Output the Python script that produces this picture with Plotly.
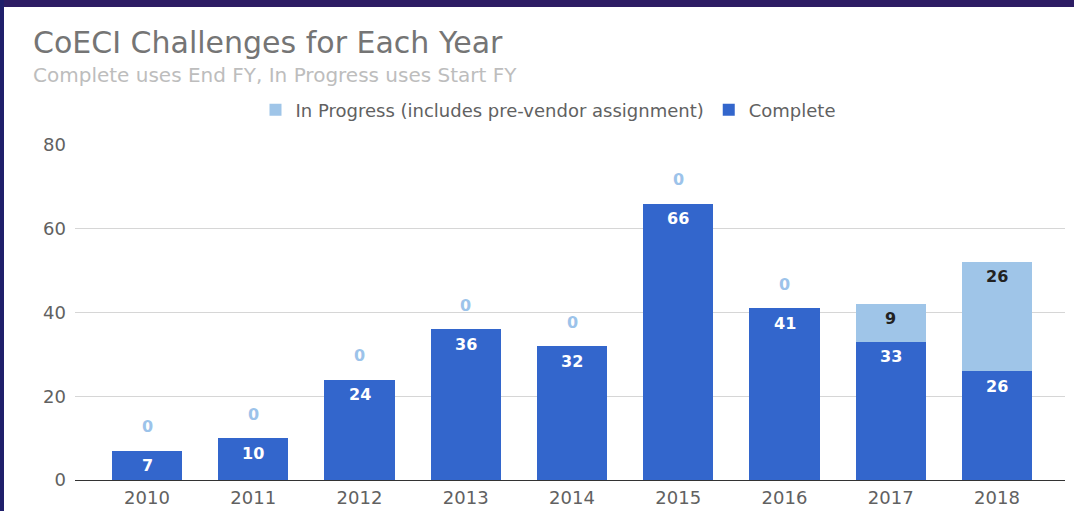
import plotly.graph_objects as go

years = ["2010", "2011", "2012", "2013", "2014", "2015", "2016", "2017", "2018"]
complete = [7, 10, 24, 36, 32, 66, 41, 33, 26]
in_progress = [0, 0, 0, 0, 0, 0, 0, 9, 26]
y_ticks = [0, 20, 40, 60, 80]

W, H = 1074, 511
L, R, T, B = 75, 9, 145, 31
PW, PH = W - L - R, H - T - B

def px_x(p):
    return (p - L) / PW

def px_y(p):
    return (H - p - B) / PH

FONT = "DejaVu Sans"
C_COMPLETE = "#3366cc"
C_PROG = "#9fc5e8"

fig = go.Figure()
fig.add_trace(go.Bar(name="Complete", x=years, y=complete,
                     marker=dict(color=C_COMPLETE, line=dict(width=0))))
fig.add_trace(go.Bar(name="In Progress (includes pre-vendor assignment)", x=years, y=in_progress,
                     marker=dict(color=C_PROG, line=dict(width=0))))

ann = []
for i, (c, p) in enumerate(zip(complete, in_progress)):
    ann.append(dict(x=i, y=c, xref="x", yref="y", text=str(c), showarrow=False,
                    yshift=-15, font=dict(family=FONT, size=16, color="white", weight="bold")))
    if p > 0:
        ann.append(dict(x=i, y=c + p, xref="x", yref="y", text=str(p), showarrow=False,
                        yshift=-14, font=dict(family=FONT, size=16, color="#222222", weight="bold")))
    else:
        ann.append(dict(x=i, y=c + p, xref="x", yref="y", text=str(p), showarrow=False,
                        yshift=24, font=dict(family=FONT, size=16, color="#9cc3ea", weight="bold")))

ann.append(dict(x=px_x(31), y=px_y(43), xref="paper", yref="paper", xanchor="left", yanchor="middle",
                text="CoECI Challenges for Each Year", showarrow=False,
                font=dict(family=FONT, size=30, color="#757575")))
ann.append(dict(x=px_x(31), y=px_y(75), xref="paper", yref="paper", xanchor="left", yanchor="middle",
                text="Complete uses End FY, In Progress uses Start FY", showarrow=False,
                font=dict(family=FONT, size=20, color="#bdbdbd")))

shapes = [
    dict(type="rect", xref="paper", yref="paper", x0=px_x(0), x1=px_x(W), y0=px_y(7), y1=px_y(0),
         fillcolor="#2d1d64", line=dict(width=0), layer="above"),
    dict(type="rect", xref="paper", yref="paper", x0=px_x(0), x1=px_x(4), y0=px_y(H), y1=px_y(0),
         fillcolor="#1f1f6b", line=dict(width=0), layer="above"),
]

fig.update_layout(
    width=W, height=H,
    margin=dict(l=L, r=R, t=T, b=B, autoexpand=False),
    paper_bgcolor="white", plot_bgcolor="white",
    barmode="stack", bargap=0.34,
    showlegend=True,
    legend=dict(orientation="h", x=px_x(548), y=px_y(110), xanchor="center", yanchor="middle",
                traceorder="reversed", font=dict(family=FONT, size=18, color="#616161"),
                itemclick=False),
    annotations=ann,
    shapes=shapes,
    xaxis=dict(type="category", range=[-0.678, 8.64], showgrid=False, showline=True,
               linecolor="#333333", linewidth=1, automargin=False,
               ticks="", tickfont=dict(family=FONT, size=18, color="#616161"), ticklabelstandoff=1),
    yaxis=dict(range=[0, 80], tickvals=y_ticks, showgrid=True, gridcolor="#d6d6d6", gridwidth=1,
               zeroline=False, ticks="", automargin=False,
               tickfont=dict(family=FONT, size=18, color="#616161"), ticklabelstandoff=8),
)

fig.write_html("out.html")
